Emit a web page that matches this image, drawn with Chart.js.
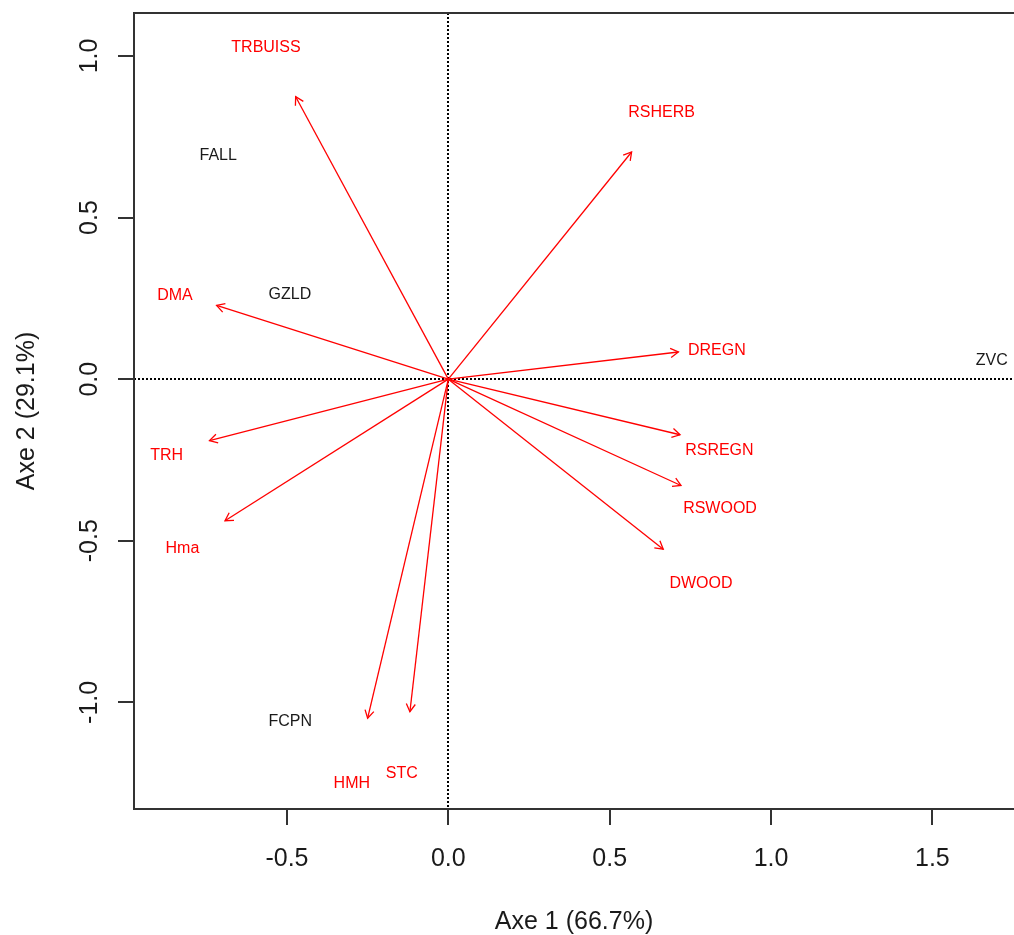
<!DOCTYPE html>
<html>
<head>
<meta charset="utf-8">
<script src="https://cdn.jsdelivr.net/npm/chart.js@4"></script>
<style>
  html, body { margin: 0; padding: 0; background: #ffffff; overflow: hidden; }
  canvas { display: block; }
</style>
</head>
<body>
<canvas id="c" width="1014" height="935"></canvas>
<script>
// ---- Data ----
const arrowNames = ['TRBUISS', 'RSHERB', 'DMA', 'DREGN', 'TRH', 'RSREGN', 'RSWOOD', 'Hma', 'DWOOD', 'HMH', 'STC'];
const arrowX = [-0.473, 0.568, -0.718, 0.713, -0.740, 0.718, 0.721, -0.692, 0.666, -0.250, -0.119];
const arrowY = [0.874, 0.703, 0.228, 0.084, -0.190, -0.172, -0.329, -0.438, -0.526, -1.049, -1.029];
const arrowLabelX = [-0.565, 0.661, -0.847, 0.832, -0.873, 0.840, 0.842, -0.824, 0.783, -0.299, -0.144];
const arrowLabelY = [1.030, 0.830, 0.262, 0.094, -0.231, -0.218, -0.397, -0.521, -0.629, -1.246, -1.215];

const suppNames = ['FALL', 'GZLD', 'ZVC', 'FCPN'];
const suppX = [-0.713, -0.491, 1.684, -0.490];
const suppY = [0.695, 0.265, 0.063, -1.055];

const xTicks = [-0.5, 0, 0.5, 1, 1.5];
const xTickLabels = ['-0.5', '0.0', '0.5', '1.0', '1.5'];
const yTicks = [-1, -0.5, 0, 0.5, 1];
const yTickLabels = ['-1.0', '-0.5', '0.0', '0.5', '1.0'];

const xTitle = 'Axe 1 (66.7%)';
const yTitle = 'Axe 2 (29.1%)';

const xMin = -0.974, xMax = 1.753;
const yMin = -1.330, yMax = 1.133;

// ---- Styles ----
const FONT = '"Liberation Sans", Arial, Helvetica, sans-serif';
const RED = '#ff0000';
const INK = '#1a1a1a';

const datasets = arrowNames.map((n, i) => ({
  label: n,
  data: [{x: 0, y: 0}, {x: arrowX[i], y: arrowY[i]}],
  showLine: true,
  borderColor: RED,
  borderWidth: 1.3,
  pointRadius: 0,
  pointHoverRadius: 0,
  fill: false
}));

const rPlugin = {
  id: 'rstyle',
  beforeDatasetsDraw(chart) {
    const {ctx, chartArea: a, scales: {x, y}} = chart;
    ctx.save();
    ctx.strokeStyle = '#000';
    ctx.lineWidth = 2;
    ctx.setLineDash([2, 2]);
    const x0 = Math.round(x.getPixelForValue(0)), y0 = Math.round(y.getPixelForValue(0));
    ctx.beginPath();
    ctx.moveTo(x0, a.top); ctx.lineTo(x0, a.bottom);
    ctx.moveTo(a.left, y0); ctx.lineTo(a.right, y0);
    ctx.stroke();
    ctx.restore();
  },
  afterDatasetsDraw(chart) {
    const {ctx, scales: {x, y}} = chart;
    ctx.save();
    // arrow heads
    ctx.strokeStyle = RED;
    ctx.lineWidth = 1.3;
    const L = 9, ang = Math.PI / 6;
    chart.data.datasets.forEach((ds, i) => {
      const meta = chart.getDatasetMeta(i);
      const p0 = meta.data[0], p1 = meta.data[1];
      const th = Math.atan2(p1.y - p0.y, p1.x - p0.x);
      ctx.beginPath();
      ctx.moveTo(p1.x - L * Math.cos(th - ang), p1.y - L * Math.sin(th - ang));
      ctx.lineTo(p1.x, p1.y);
      ctx.lineTo(p1.x - L * Math.cos(th + ang), p1.y - L * Math.sin(th + ang));
      ctx.stroke();
    });
    // variable labels
    const fs = 16;
    ctx.font = fs + 'px ' + FONT;
    ctx.textAlign = 'center';
    ctx.textBaseline = 'alphabetic';
    ctx.fillStyle = RED;
    arrowNames.forEach((n, i) => {
      ctx.fillText(n, x.getPixelForValue(arrowLabelX[i]), y.getPixelForValue(arrowLabelY[i]) + 0.358 * fs);
    });
    ctx.fillStyle = INK;
    suppNames.forEach((n, i) => {
      ctx.fillText(n, x.getPixelForValue(suppX[i]), y.getPixelForValue(suppY[i]) + 0.358 * fs);
    });
    ctx.restore();
  },
  afterDraw(chart) {
    const {ctx, chartArea: a, scales: {x, y}} = chart;
    ctx.save();
    // frame (right side lies beyond the picture)
    ctx.strokeStyle = '#333';
    ctx.lineWidth = 2;
    ctx.beginPath();
    ctx.moveTo(a.right + 2, a.top);
    ctx.lineTo(a.left, a.top);
    ctx.lineTo(a.left, a.bottom);
    ctx.lineTo(a.right + 2, a.bottom);
    ctx.stroke();
    // ticks
    const tl = 16;
    ctx.beginPath();
    xTicks.forEach(v => {
      const px = Math.round(x.getPixelForValue(v));
      ctx.moveTo(px, a.bottom); ctx.lineTo(px, a.bottom + tl);
    });
    yTicks.forEach(v => {
      const py = Math.round(y.getPixelForValue(v));
      ctx.moveTo(a.left, py); ctx.lineTo(a.left - tl, py);
    });
    ctx.stroke();
    // tick labels
    const ts = 25;
    ctx.fillStyle = INK;
    ctx.font = ts + 'px ' + FONT;
    ctx.textAlign = 'center';
    ctx.textBaseline = 'alphabetic';
    xTicks.forEach((v, i) => {
      ctx.fillText(xTickLabels[i], x.getPixelForValue(v), 857.5 + 0.358 * ts);
    });
    yTicks.forEach((v, i) => {
      ctx.save();
      ctx.translate(88, y.getPixelForValue(v));
      ctx.rotate(-Math.PI / 2);
      ctx.fillText(yTickLabels[i], 0, 0.358 * ts);
      ctx.restore();
    });
    // axis titles
    ctx.fillText(xTitle, (a.left + a.right) / 2, 920.5 + 0.358 * ts);
    ctx.save();
    ctx.translate(25, (a.top + a.bottom) / 2);
    ctx.rotate(-Math.PI / 2);
    ctx.fillText(yTitle, 0, 0.358 * ts);
    ctx.restore();
    ctx.restore();
  }
};

new Chart(document.getElementById('c'), {
  type: 'scatter',
  data: { datasets },
  options: {
    responsive: false,
    devicePixelRatio: 1,
    animation: false,
    events: [],
    layout: { padding: { left: 134, top: 13, right: 0, bottom: 126 } },
    plugins: { legend: { display: false }, tooltip: { enabled: false }, title: { display: false } },
    scales: {
      x: { type: 'linear', min: xMin, max: xMax, display: false },
      y: { type: 'linear', min: yMin, max: yMax, display: false }
    }
  },
  plugins: [rPlugin]
});
</script>
</body>
</html>
